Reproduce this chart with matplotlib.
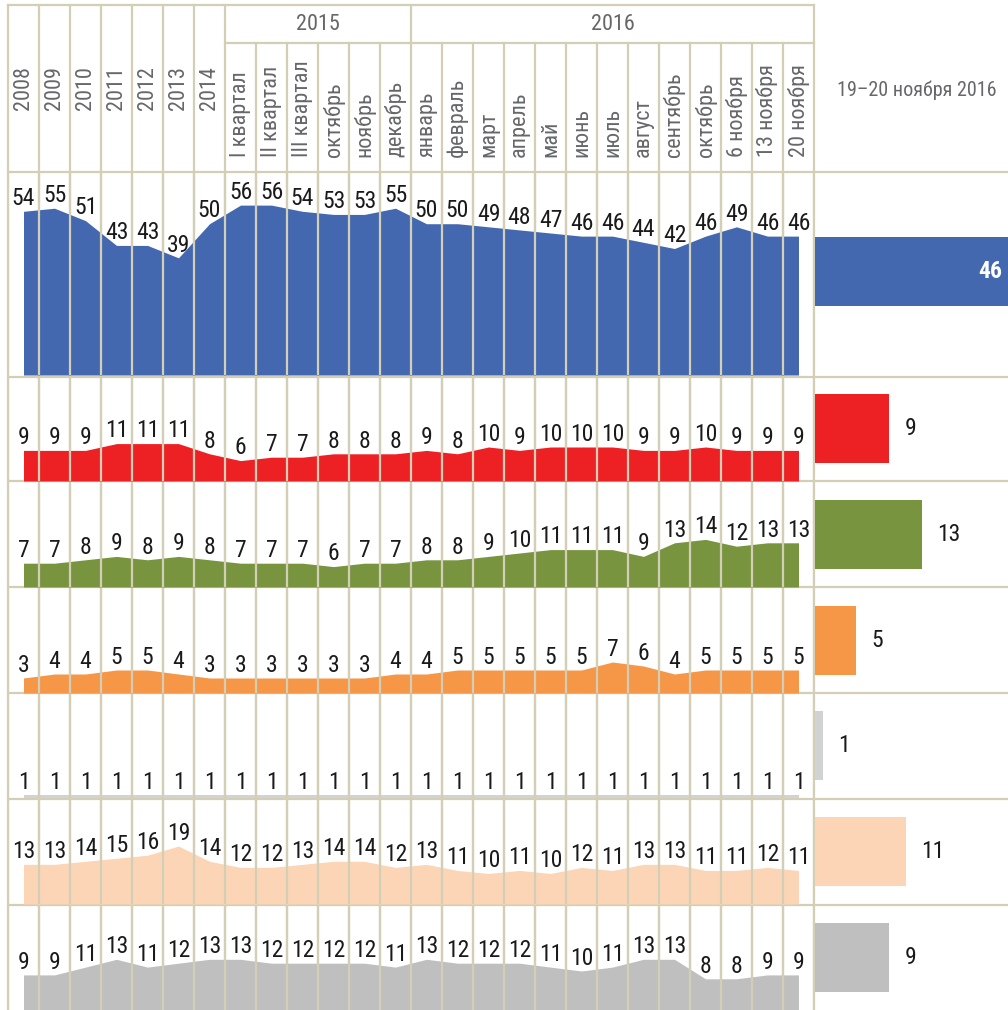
import os
import matplotlib
matplotlib.use("Agg")
import matplotlib.pyplot as plt
import matplotlib.transforms as mtransforms
from matplotlib import font_manager as fm

# ---------------- data ----------------
years = ["2008", "2009", "2010", "2011", "2012", "2013", "2014"]
labels_2015 = ["I квартал", "II квартал", "III квартал", "октябрь", "ноябрь", "декабрь"]
labels_2016 = ["январь", "февраль", "март", "апрель", "май", "июнь", "июль", "август",
               "сентябрь", "октябрь", "6 ноября", "13 ноября", "20 ноября"]
group_2015 = "2015"
group_2016 = "2016"
right_title = "19–20 ноября 2016"

s_blue = [54, 55, 51, 43, 43, 39, 50, 56, 56, 54, 53, 53, 55, 50, 50, 49, 48, 47, 46, 46, 44, 42, 46, 49, 46, 46]
s_red = [9, 9, 9, 11, 11, 11, 8, 6, 7, 7, 8, 8, 8, 9, 8, 10, 9, 10, 10, 10, 9, 9, 10, 9, 9, 9]
s_green = [7, 7, 8, 9, 8, 9, 8, 7, 7, 7, 6, 7, 7, 8, 8, 9, 10, 11, 11, 11, 9, 13, 14, 12, 13, 13]
s_orange = [3, 4, 4, 5, 5, 4, 3, 3, 3, 3, 3, 3, 4, 4, 5, 5, 5, 5, 5, 7, 6, 4, 5, 5, 5, 5]
s_lgrey = [1, 1, 1, 1, 1, 1, 1, 1, 1, 1, 1, 1, 1, 1, 1, 1, 1, 1, 1, 1, 1, 1, 1, 1, 1, 1]
s_peach = [13, 13, 14, 15, 16, 19, 14, 12, 12, 13, 14, 14, 12, 13, 11, 10, 11, 10, 12, 11, 13, 13, 11, 11, 12, 11]
s_grey = [9, 9, 11, 13, 11, 12, 13, 13, 12, 12, 12, 12, 11, 13, 12, 12, 12, 11, 10, 11, 13, 13, 8, 8, 9, 9]

bar_values = [46, 9, 13, 5, 1, 11, 9]

# ---------------- fonts ----------------
def find_font(want_bold):
    prefs = ["liberationsansnarrow", "robotocondensed", "opensanscondensed", "dejavusanscondensed"]
    found = {}
    for f in fm.fontManager.ttflist:
        fn = os.path.basename(f.fname).lower().replace("-", "").replace("_", "")
        if "italic" in fn or "oblique" in fn or "light" in fn or "thin" in fn or "black" in fn:
            continue
        is_bold = "bold" in fn
        if is_bold != want_bold:
            continue
        for p in prefs:
            if fn.startswith(p):
                if "semi" in fn or "medium" in fn:
                    continue
                found.setdefault(p, f.fname)
    for p in prefs:
        if p in found:
            return p, found[p]
    return None, None

name_r, path_r = find_font(False)
name_b, path_b = find_font(True)
if path_r is not None and name_r == "liberationsansnarrow":
    fp = fm.FontProperties(fname=path_r)
    sizes = dict(data=17, hdr=16.5, title=14.5, bold=16)
elif path_r is not None:
    fp = fm.FontProperties(fname=path_r)
    sizes = dict(data=17, hdr=16, title=14.5, bold=17)
else:
    fp = fm.FontProperties(family=["Liberation Sans", "DejaVu Sans"])
    sizes = dict(data=15, hdr=13.2, title=13.5, bold=14.5)
fpb = fm.FontProperties(fname=path_b) if path_b is not None else \
    fm.FontProperties(family=["Liberation Sans", "DejaVu Sans"], weight="bold")

def F(size, bold=False):
    p = (fpb if bold else fp).copy()
    p.set_size(size)
    return p

# ---------------- style ----------------
W, H = 1008, 1010
colors = ["#4468B0", "#ED2024", "#78943F", "#F69647", "#D1D2D4", "#FBD5B5", "#BFBFBF"]
grid_c = "#D3CFB6"
hdr_c = "#66676A"
txt_c = "#1A1A1A"

fig = plt.figure(figsize=(W / 100, H / 100), dpi=100)
fig.patch.set_facecolor("white")

x0, cw = 8, 31
ncol = len(s_blue)
xr = x0 + cw * ncol  # 814

def fx(px):
    return px / W

def fy(py):
    return 1 - py / H

# overlay axes in pixel coords (for grid + header)
ov = fig.add_axes([0, 0, 1, 1], zorder=0)
ov.set_xlim(0, W)
ov.set_ylim(H, 0)
ov.axis("off")

lw = 1.6
row_lines = [172, 377, 481, 587, 693, 799, 905]
ov.plot([x0, xr], [5, 5], color=grid_c, lw=lw)
ov.plot([x0 + cw * 7, xr], [43, 43], color=grid_c, lw=lw)
for y in row_lines:
    ov.plot([x0, W], [y, y], color=grid_c, lw=lw)
full = {0, 1, 2, 3, 4, 5, 6, 7, 13, 26}
for k in range(ncol + 1):
    xx = x0 + cw * k
    ov.plot([xx, xx], [5 if k in full else 43, H], color=grid_c, lw=lw)

# header texts
for i, t in enumerate(years):
    ov.text(x0 + cw * (i + 0.5), 88, t, rotation=90, ha="center", va="center",
            fontproperties=F(sizes["hdr"]), color=hdr_c)
for i, t in enumerate(labels_2015 + labels_2016):
    ov.text(x0 + cw * (i + 7.5), 157, t, rotation=90, ha="center", va="bottom",
            fontproperties=F(sizes["hdr"]), color=hdr_c)
ov.text(x0 + cw * 10, 25, group_2015, ha="center", va="center", fontproperties=F(sizes["hdr"]), color=hdr_c)
ov.text(x0 + cw * 19.5, 25, group_2016, ha="center", va="center", fontproperties=F(sizes["hdr"]), color=hdr_c)
ov.text(917, 90, right_title, ha="center", va="center", fontproperties=F(sizes["title"]), color=hdr_c)

# rows: (top px, bottom px, ymin, ymax)
series = [s_blue, s_red, s_green, s_orange, s_lgrey, s_peach, s_grey]
rows = [
    (172, 375, 1.2, 1.2 + 203 / 3.1),
    (378, 481, 0, 103 / 3.4),
    (482, 587, 0, 105 / 3.4),
    (588, 693, -0.75, -0.75 + 105 / 4.0),
    (694, 798, 0, 104 / 3.0),
    (800, 904, 0, 104 / 3.05),
    (906, 1010, 0, 104 / 3.9),
]
xs = list(range(ncol))
for s, c, (t, b, ymin, ymax) in zip(series, colors, rows):
    ax = fig.add_axes([fx(x0), fy(b), fx(cw * ncol), (b - t) / H], zorder=1)
    ax.patch.set_alpha(0)
    ax.set_xlim(-0.5, ncol - 0.5)
    ax.set_ylim(ymin, ymax)
    ax.axis("off")
    ax.fill_between(xs, ymin, s, color=c, lw=0, zorder=1)
    for k in range(ncol + 1):
        ax.axvline(k - 0.5, color=grid_c, lw=lw, zorder=2)
    for xi, v in zip(xs, s):
        ax.annotate(str(v), (xi, v), xytext=(0, 4.5), textcoords="offset points",
                    ha="center", va="baseline", fontproperties=F(sizes["data"]), color=txt_c,
                    zorder=3, annotation_clip=False)

# right bars
bx0 = 815
bax = fig.add_axes([fx(bx0), 0, fx(W - bx0), 1], zorder=1)
bax.patch.set_alpha(0)
bax.set_ylim(H, 0)
bax.set_xlim(0, (W - bx0) / 8.25)
bax.axis("off")
bar_centers = [271, 428.5, 534.5, 640.5, 745.5, 851.5, 957.5]
bax.barh(bar_centers, bar_values, height=69, color=colors, lw=0)
blend = mtransforms.blended_transform_factory(bax.transAxes, bax.transData)
for i, (yc, v) in enumerate(zip(bar_centers, bar_values)):
    if i == 0:
        bax.text(0.97, yc, str(v), transform=blend, ha="right", va="center",
                 fontproperties=F(sizes["bold"], bold=True), color="white")
    else:
        bax.annotate(str(v), (v, yc), xytext=(11, 0), textcoords="offset points",
                     ha="left", va="center", fontproperties=F(sizes["data"]), color=txt_c)

fig.savefig("out.png", dpi=100, facecolor="white")
